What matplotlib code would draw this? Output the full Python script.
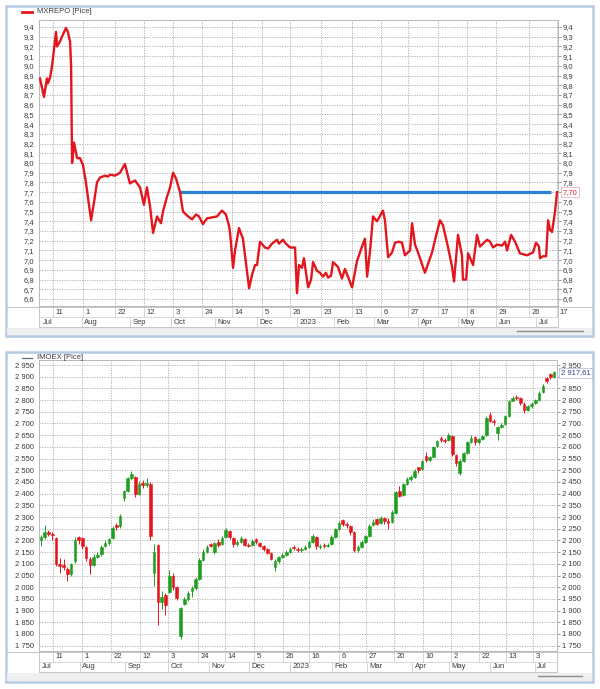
import numpy as np
import matplotlib
matplotlib.use('Agg')
import matplotlib.pyplot as plt
from matplotlib.patches import Rectangle
from matplotlib.lines import Line2D
import matplotlib.transforms as mtransforms

plt.rcParams['font.family'] = ['Liberation Sans', 'DejaVu Sans']
FS = 5.5

# ---------------- MXREPO (top) data : trading-day index / value ----------------
repo_day = [0.5, 2.5, 4.0, 4.5, 5.6, 6.6, 8.6, 9.1, 10.6, 11.6,
            13.6, 14.6, 15.7, 16.2, 16.7, 17.7, 19.2, 20.7, 22.2, 23.7,
            26.3, 27.8, 29.3, 30.8, 33.3, 34.8, 35.9, 38.4, 40.9, 43.4,
            45.9, 48.5, 51.0, 53.0, 54.5, 56.1, 57.6, 59.6, 61.6, 62.6,
            64.6, 66.2, 67.7, 69.2, 71.2, 72.7, 75.3, 77.3, 79.3, 80.8,
            82.8, 84.8, 87.4, 89.9, 92.4, 94.4, 96.0, 96.5, 98.0, 99.0,
            101.0, 103.0, 106.1, 107.6, 109.1, 110.1, 111.6, 114.1, 115.7, 117.7,
            120.2, 121.2, 123.2, 124.7, 126.8, 129.3, 130.3, 131.3, 132.8, 133.8,
            135.9, 137.4, 138.4, 140.4, 141.9, 143.4, 144.9, 146.0, 147.5, 148.5,
            151.0, 153.0, 154.5, 158.1, 160.6, 163.1, 164.6, 165.7, 167.2, 168.7,
            170.7, 173.7, 174.7, 176.3, 178.3, 179.8, 181.8, 183.3, 184.8, 187.4,
            188.4, 189.9, 191.4, 194.9, 198.5, 201.0, 202.5, 204.0, 206.6, 208.6,
            209.6, 211.6, 213.6, 214.1, 215.7, 216.7, 219.2, 221.2, 222.7, 226.3,
            227.8, 229.3, 231.3, 233.8, 235.4, 236.4, 238.4, 240.4, 242.9, 246.5,
            249.5, 251.0, 252.5, 253.0, 254.5, 256.1, 257.1, 258.1, 259.1, 260.6,
            261.6]
repo_value = [8.87, 8.68, 8.87, 8.82, 8.88, 9.00, 9.35, 9.20, 9.25, 9.30,
              9.39, 9.35, 9.25, 9.00, 8.00, 8.21, 8.05, 8.05, 7.98, 7.80,
              7.41, 7.60, 7.80, 7.85, 7.87, 7.86, 7.88, 7.87, 7.90, 7.99,
              7.79, 7.82, 7.75, 7.57, 7.75, 7.55, 7.28, 7.45, 7.38, 7.50,
              7.65, 7.75, 7.90, 7.84, 7.70, 7.50, 7.45, 7.42, 7.47, 7.45,
              7.37, 7.43, 7.44, 7.45, 7.51, 7.47, 7.35, 7.28, 6.92, 7.10,
              7.33, 7.22, 6.71, 6.85, 6.95, 6.95, 7.19, 7.13, 7.12, 7.17,
              7.21, 7.17, 7.21, 7.17, 7.13, 7.13, 6.66, 6.95, 6.92, 7.02,
              6.72, 6.80, 6.98, 6.89, 6.87, 6.83, 6.87, 6.82, 6.84, 6.98,
              6.93, 6.81, 6.91, 6.72, 6.99, 7.14, 7.22, 6.83, 7.10, 7.45,
              7.40, 7.51, 7.41, 7.03, 7.08, 7.18, 7.19, 7.18, 7.05, 7.10,
              7.38, 7.16, 7.08, 6.87, 7.08, 7.29, 7.41, 7.36, 7.13, 6.93,
              6.78, 7.26, 7.05, 6.80, 6.80, 7.07, 6.95, 7.26, 7.14, 7.21,
              7.19, 7.13, 7.16, 7.15, 7.19, 7.10, 7.26, 7.19, 7.07, 7.05,
              7.08, 7.18, 7.14, 7.02, 7.04, 7.04, 7.41, 7.31, 7.29, 7.50,
              7.70]
repo_level = 7.70
repo_level_from = 71.2
repo_level_to = 258.6
repo_last_label = "7,70"
repo_name = "MXREPO [Pice]"

top_tick_days = [7.1, 22.2, 38.4, 53.0, 67.7, 82.3, 97.5, 112.6, 126.8, 142.4,
                 158.1, 172.7, 186.4, 201.5, 216.2, 230.8, 247.5, 261.6]
top_tick_labels = ['11', '1', '22', '12', '3', '24', '14', '5', '26', '23',
                   '13', '6', '27', '17', '8', '29', '26', '17']
top_month_days = [0.5, 21.7, 45.9, 66.7, 88.9, 110.1, 130.3, 149.0, 169.2, 191.4,
                  211.6, 230.8, 251.0]
top_month_labels = ['Jul', 'Aug', 'Sep', 'Oct', 'Nov', 'Dec', '2023', 'Feb', 'Mar',
                    'Apr', 'May', 'Jun', 'Jul']

# ---------------- IMOEX (bottom) candles, one every two trading days ----------------
imoex_open = [2200, 2215, 2238, 2228, 2210, 2100, 2095, 2080, 2055, 2110,
              2215, 2210, 2170, 2120, 2095, 2130, 2140, 2175, 2190, 2210,
              2265, 2260, 2380, 2410, 2468, 2470, 2400, 2445, 2435, 2440,
              2060, 2180, 1935, 1965, 1980, 2050, 2000, 1790, 1930, 1950,
              1985, 1995, 2035, 2115, 2150, 2185, 2150, 2195, 2185, 2215,
              2240, 2210, 2185, 2195, 2205, 2182, 2180, 2205, 2190, 2178,
              2162, 2145, 2085, 2110, 2130, 2138, 2150, 2172, 2165, 2158,
              2162, 2172, 2195, 2215, 2172, 2182, 2175, 2185, 2215, 2250,
              2288, 2270, 2262, 2235, 2160, 2172, 2195, 2220, 2265, 2290,
              2275, 2295, 2285, 2278, 2318, 2410, 2395, 2440, 2462, 2472,
              2512, 2505, 2560, 2545, 2558, 2602, 2640, 2628, 2628, 2648,
              2565, 2490, 2540, 2575, 2622, 2642, 2620, 2635, 2650, 2738,
              2712, 2660, 2685, 2698, 2732, 2798, 2815, 2808, 2785, 2758,
              2775, 2788, 2802, 2835, 2895, 2910, 2898]
imoex_high = [2225, 2265, 2245, 2235, 2215, 2125, 2120, 2085, 2105, 2215,
              2220, 2215, 2175, 2130, 2140, 2150, 2180, 2200, 2210, 2262,
              2275, 2312, 2415, 2470, 2495, 2475, 2455, 2460, 2465, 2450,
              2185, 2185, 1985, 1975, 2075, 2060, 2005, 1915, 1960, 1985,
              2005, 2045, 2125, 2165, 2180, 2190, 2195, 2205, 2220, 2255,
              2245, 2215, 2200, 2220, 2210, 2190, 2205, 2210, 2195, 2182,
              2168, 2150, 2120, 2135, 2145, 2160, 2170, 2180, 2170, 2170,
              2180, 2200, 2228, 2220, 2185, 2188, 2190, 2222, 2255, 2285,
              2292, 2278, 2268, 2240, 2180, 2200, 2225, 2270, 2290, 2295,
              2305, 2300, 2295, 2330, 2412, 2432, 2445, 2470, 2478, 2505,
              2515, 2545, 2580, 2562, 2605, 2630, 2648, 2640, 2660, 2652,
              2570, 2548, 2580, 2625, 2650, 2648, 2640, 2652, 2730, 2748,
              2720, 2690, 2700, 2735, 2800, 2818, 2822, 2812, 2790, 2780,
              2792, 2805, 2840, 2868, 2900, 2915, 2925]
imoex_low = [2175, 2205, 2220, 2200, 2090, 2060, 2075, 2025, 2050, 2105,
             2185, 2165, 2110, 2055, 2090, 2125, 2135, 2170, 2180, 2205,
             2245, 2255, 2370, 2405, 2460, 2385, 2395, 2425, 2430, 2200,
             2005, 1840, 1905, 1880, 1975, 1990, 1945, 1778, 1925, 1940,
             1960, 1990, 2030, 2110, 2145, 2170, 2140, 2170, 2180, 2210,
             2205, 2170, 2175, 2190, 2175, 2170, 2175, 2185, 2170, 2155,
             2140, 2115, 2068, 2105, 2125, 2135, 2145, 2160, 2150, 2150,
             2158, 2168, 2190, 2162, 2165, 2168, 2170, 2180, 2210, 2245,
             2262, 2255, 2225, 2150, 2150, 2168, 2190, 2215, 2260, 2265,
             2270, 2270, 2250, 2275, 2315, 2385, 2390, 2435, 2455, 2468,
             2490, 2500, 2535, 2540, 2555, 2598, 2620, 2615, 2625, 2560,
             2520, 2478, 2535, 2570, 2615, 2610, 2612, 2628, 2645, 2705,
             2695, 2630, 2680, 2695, 2728, 2795, 2800, 2780, 2745, 2752,
             2768, 2782, 2798, 2830, 2875, 2890, 2895]
imoex_close = [2215, 2235, 2228, 2222, 2100, 2092, 2085, 2055, 2100, 2200,
               2200, 2175, 2125, 2095, 2130, 2138, 2170, 2190, 2205, 2252,
               2256, 2305, 2410, 2465, 2485, 2400, 2440, 2435, 2445, 2220,
               2150, 1935, 1960, 1925, 2050, 2000, 1955, 1910, 1950, 1975,
               1995, 2035, 2115, 2150, 2170, 2178, 2188, 2180, 2212, 2243,
               2215, 2183, 2192, 2210, 2182, 2178, 2198, 2192, 2178, 2162,
               2148, 2122, 2110, 2128, 2136, 2150, 2162, 2166, 2160, 2163,
               2172, 2195, 2218, 2175, 2178, 2176, 2182, 2215, 2248, 2275,
               2272, 2265, 2238, 2160, 2172, 2193, 2218, 2262, 2280, 2272,
               2298, 2283, 2275, 2322, 2405, 2392, 2440, 2462, 2470, 2498,
               2502, 2540, 2542, 2555, 2600, 2625, 2628, 2625, 2650, 2568,
               2533, 2540, 2572, 2620, 2640, 2620, 2632, 2645, 2725, 2712,
               2705, 2685, 2695, 2730, 2795, 2808, 2810, 2788, 2758, 2775,
               2785, 2800, 2832, 2860, 2880, 2898, 2918]
imoex_last = 2917.61
imoex_last_label = "2 917,61"
imoex_name = "IMOEX [Pice]"

bot_tick_days = [7.4, 22.8, 38.2, 53.5, 68.4, 84.3, 98.6, 113.9, 129.3, 143.1,
                 159.0, 173.3, 188.1, 203.5, 218.3, 233.2, 247.5, 261.8]
bot_tick_labels = ['11', '1', '22', '12', '3', '24', '14', '5', '26', '16',
                   '6', '27', '20', '10', '2', '22', '13', '3']
bot_month_days = [0.0, 21.7, 45.6, 68.4, 90.1, 111.3, 133.0, 155.3, 173.9, 197.7,
                  217.3, 239.0, 262.8]
bot_month_labels = ['Jul', 'Aug', 'Sep', 'Oct', 'Nov', 'Dec', '2023', 'Feb', 'Mar',
                    'Apr', 'May', 'Jun', 'Jul']

# ---------------- figure helpers ----------------
W, H = 600, 689
fig = plt.figure(figsize=(W / 100, H / 100), dpi=100, facecolor='white')


def box(l, t, r, b):
    return [l / W, 1 - b / H, (r - l) / W, (b - t) / H]


def fig_rect(l, t, r, b, **kw):
    fig.add_artist(Rectangle((l / W, 1 - b / H), (r - l) / W, (b - t) / H,
                             transform=fig.transFigure, **kw))


def fig_line(x0, x1, y0, y1, **kw):
    fig.add_artist(Line2D([x0 / W, x1 / W], [1 - y0 / H, 1 - y1 / H],
                          transform=fig.transFigure, **kw))


GRID = '#aaaaaa'
TXT = '#3a3a3a'


def build_panel(top, bottom, plot_box, strip_box, xlim, ylim, yticks, yfmt,
                tick_days, tick_labels, month_days, month_labels,
                leg_text, leg_color, leg_lw, scroll):
    # outer frame and lower grey band
    fig_rect(6, top, 593, bottom, fc='white', ec='#b5cae3', lw=1.8, zorder=-2)
    fig_rect(7, strip_box[3] + 1, 592, bottom - 1, fc='#efefef', ec='none', zorder=-1)
    fig_line(6, 593, strip_box[1], strip_box[1], color='#c9c9c9', lw=0.8, zorder=-1)
    fig_line(scroll[0], scroll[1], scroll[2], scroll[2], color='#8c8c8c', lw=1.0, zorder=5)
    # legend
    ly = top + 5.5
    fig_line(22, 32, ly, ly, color=leg_color, lw=leg_lw, zorder=5)
    fig.text(37 / W, 1 - ly / H, leg_text, fontsize=FS, color=TXT, va='center', ha='left')

    ax = fig.add_axes(box(*plot_box))
    ax.set_facecolor('white')
    ax.set_xlim(*xlim)
    ax.set_ylim(*ylim)
    ax.set_xticks(tick_days)
    ax.set_yticks(yticks)
    ax.set_yticklabels([yfmt(v) for v in yticks])
    ax.tick_params(axis='x', bottom=False, labelbottom=False)
    ax.tick_params(axis='y', left=False, right=True, labelleft=True, labelright=True,
                   length=2, width=0.6, color='#8a8a8a', pad=1.5,
                   labelsize=FS, labelcolor=TXT)
    ax.grid(True, color=GRID, lw=0.6, ls=(0, (1.5, 1.5)))
    ax.set_axisbelow(True)
    for s in ax.spines.values():
        s.set_color('#b8b8b8')
        s.set_linewidth(0.7)

    # time strip (day row + month row)
    st = fig.add_axes(box(*strip_box))
    st.set_xlim(*xlim)
    st.set_ylim(0, 2)
    st.set_xticks([])
    st.set_yticks([])
    st.set_facecolor('white')
    for s in st.spines.values():
        s.set_color('#c6c6c6')
        s.set_linewidth(0.7)
    st.axhline(1, color='#d2d2d2', lw=0.6)
    st.vlines(tick_days, 1, 2, color='#cfcfcf', lw=0.6)
    st.vlines(month_days[1:], 0, 1, color='#cfcfcf', lw=0.6)
    off = mtransforms.offset_copy(st.transData, fig=fig, x=2.5, y=0, units='dots')
    for d, lab in zip(tick_days, tick_labels):
        st.text(d, 1.5, lab, transform=off, fontsize=FS, color=TXT, ha='left',
                va='center', clip_on=False)
    for d, lab in zip(month_days, month_labels):
        st.text(d, 0.5, lab, transform=off, fontsize=FS, color=TXT, ha='left',
                va='center', clip_on=False)
    return ax


def hide_right_label(ax, value):
    # the last-price box sits on top of this right-hand tick label
    for t, v in zip(ax.yaxis.get_major_ticks(), ax.get_yticks()):
        if abs(v - value) < 1e-6:
            t.label2.set_visible(False)


# ---------------- top panel: MXREPO ----------------
top_yticks = np.round(np.arange(6.6, 9.45, 0.1), 1)
ax1 = build_panel(6, 336, (39, 20, 558, 306), (39, 307, 558, 327),
                  (0, 262.1), (6.528, 9.472), top_yticks,
                  lambda v: f"{v:.1f}".replace('.', ','),
                  top_tick_days, top_tick_labels, top_month_days, top_month_labels,
                  repo_name, '#e3161d', 2.0, (517, 583, 331))
ax1.hlines(repo_level, repo_level_from, repo_level_to, color='#2f7fd2', lw=2.3, zorder=2)
ax1.plot(repo_day, repo_value, color='#e3161d', lw=1.7, solid_joinstyle='round', zorder=3)
tr1 = mtransforms.offset_copy(
    mtransforms.blended_transform_factory(ax1.transAxes, ax1.transData),
    fig=fig, x=5, y=0, units='dots')
ax1.text(1.0, repo_level, repo_last_label, transform=tr1, fontsize=FS, color='#d42a2a',
         ha='left', va='center', clip_on=False, zorder=10,
         bbox=dict(boxstyle='square,pad=0.2', fc='white', ec='#e6b4b4', lw=0.6))
hide_right_label(ax1, 7.7)

# ---------------- bottom panel: IMOEX candles ----------------
bot_yticks = np.arange(1750, 2951, 50)
ax2 = build_panel(352, 682, (39, 360, 557, 651), (39, 652, 557, 672),
                  (0, 274.5), (1727.3, 2971.4), bot_yticks,
                  lambda v: f"{int(v):,}".replace(',', ' '),
                  bot_tick_days, bot_tick_labels, bot_month_days, bot_month_labels,
                  imoex_name, '#5d6b7c', 0.9, (538, 582, 676))

o = np.array(imoex_open, dtype=float)
h = np.array(imoex_high, dtype=float)
l = np.array(imoex_low, dtype=float)
c = np.array(imoex_close, dtype=float)
days = np.arange(len(c)) * 2 + 1
up = c >= o
cols = np.where(up, '#1f9e1f', '#e3161d')
ax2.vlines(days, l, h, colors=cols, lw=0.7, zorder=3)
ax2.bar(days, c - o, bottom=o, width=1.4, color=cols, edgecolor=cols, lw=0.4, zorder=4)
tr2 = mtransforms.offset_copy(
    mtransforms.blended_transform_factory(ax2.transAxes, ax2.transData),
    fig=fig, x=4, y=0, units='dots')
ax2.text(1.0, imoex_last, imoex_last_label, transform=tr2, fontsize=FS, color='#3b3b93',
         ha='left', va='center', clip_on=False, zorder=10,
         bbox=dict(boxstyle='square,pad=0.2', fc='white', ec='#b5c0da', lw=0.6))
hide_right_label(ax2, 2900)

fig.savefig('out.png', dpi=100, facecolor='white')
